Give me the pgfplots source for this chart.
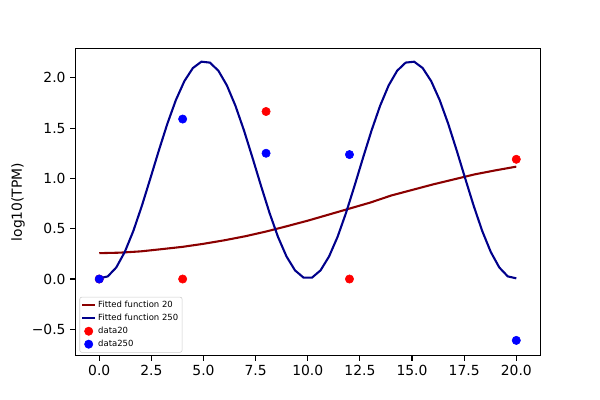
\documentclass[border=0pt]{standalone}
\usepackage{fontspec}
\setmainfont{DejaVu Sans}
\usepackage{pgfplots}
\pgfplotsset{compat=1.18}
\definecolor{dred}{HTML}{8B0000}
\definecolor{dblue}{HTML}{00008B}
\pgfplotsset{
  shortline/.style={legend image code/.code={\draw[##1, line width=1.5pt] (0pt,0pt) -- (9pt,0pt);}},
  onemark/.style={legend image code/.code={\draw[##1] plot coordinates {(4.5pt,0pt)};}},
}
\begin{document}
\begin{tikzpicture}
\useasboundingbox (0,0) rectangle (432pt,288pt);
\begin{axis}[
  at={(54.2pt,31.9pt)}, anchor=south west,
  width=334.8pt, height=221.3pt, scale only axis,
  xmin=-1.15, xmax=21.15, ymin=-0.762, ymax=2.293,
  axis line style={black, line width=0.8pt},
  tick align=outside, xtick pos=bottom, ytick pos=left,
  major tick length=3.5pt,
  tick style={black, line width=0.8pt},
  xtick={0,2.5,5,7.5,10,12.5,15,17.5,20},
  xticklabels={0.0,2.5,5.0,7.5,10.0,12.5,15.0,17.5,20.0},
  ytick={-0.5,0,0.5,1,1.5,2},
  yticklabels={−0.5,0.0,0.5,1.0,1.5,2.0},
  ticklabel style={font=\fontsize{10}{12}\selectfont},
  ylabel={log10(TPM)},
  ylabel style={at={(axis description cs:-0.123,0.5)}, anchor=center, font=\fontsize{10}{12}\selectfont},
  legend style={at={(0.009,0.01)}, anchor=south west, font=\fontsize{6.1}{6.6}\selectfont,
    draw=black!20, rounded corners=1.5pt, fill=white,
    inner sep=1.2pt, row sep=0pt, nodes={inner sep=1.6pt}},
  legend cell align=left,
]
\addplot[dred, line width=1.5pt, no marks, shortline] coordinates {
(0,0.257) (1,0.262) (2,0.275) (3,0.297) (4,0.32) (5,0.35) (6,0.385) (7,0.425) (8,0.472) (9,0.525)
(10,0.58) (11,0.64) (12,0.70) (13,0.76) (14,0.83) (15,0.885) (16,0.94) (17,0.99) (18,1.04) (19,1.08) (20,1.117)
};
\addlegendentry{Fitted function 20}
\addplot[dblue, line width=1.5pt, no marks, shortline] coordinates {
(0,0.007) (0.408,0.026) (0.816,0.115) (1.224,0.269) (1.633,0.477) (2.041,0.726) (2.449,0.999) (2.857,1.277)
(3.265,1.543) (3.673,1.778) (4.082,1.967) (4.490,2.097) (4.898,2.160) (5.306,2.151) (5.714,2.070) (6.122,1.924)
(6.531,1.722) (6.939,1.478) (7.347,1.207) (7.755,0.928) (8.163,0.659) (8.571,0.419) (8.980,0.224) (9.388,0.086)
(9.796,0.014) (10.204,0.014) (10.612,0.086) (11.020,0.224) (11.429,0.419) (11.837,0.659) (12.245,0.928) (12.653,1.207)
(13.061,1.478) (13.469,1.722) (13.878,1.924) (14.286,2.070) (14.694,2.151) (15.102,2.160) (15.510,2.097) (15.918,1.967)
(16.327,1.778) (16.735,1.543) (17.143,1.277) (17.551,0.999) (17.959,0.726) (18.367,0.477) (18.776,0.269) (19.184,0.115)
(19.592,0.026) (20,0.007)
};
\addlegendentry{Fitted function 250}
\addplot[only marks, mark=*, mark size=3pt, red, mark options={draw=red, fill=red}, onemark] coordinates {
(0,0) (4,0) (8,1.665) (12,0) (20,1.19)
};
\addlegendentry{data20}
\addplot[only marks, mark=*, mark size=3pt, blue, mark options={draw=blue, fill=blue}, onemark] coordinates {
(0,0) (4,1.59) (8,1.25) (12,1.237) (20,-0.61)
};
\addlegendentry{data250}
\end{axis}
\end{tikzpicture}
\end{document}
